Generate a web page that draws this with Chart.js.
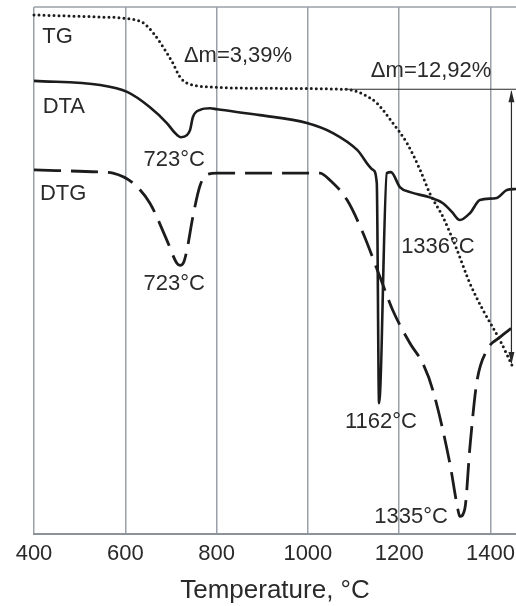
<!DOCTYPE html>
<html>
<head>
<meta charset="utf-8">
<script src="https://cdn.jsdelivr.net/npm/chart.js@4"></script>
<style>
  body { margin: 0; background: #fff; }
  #wrap { width: 516px; height: 606px; }
</style>
</head>
<body>
<div id="wrap"><canvas id="myChart" width="516" height="606"></canvas></div>
<script>
//data (signal in arbitrary units, 0..100)
let tgTemp = [400, 545, 595, 639, 661, 691, 704, 720, 735, 748, 792, 880, 1081, 1099, 1125, 1151, 1186, 1217, 1246, 1267, 1296, 1327, 1355, 1384, 1421, 1447]
let tgVal = [98.5, 98.1, 97.9, 97.0, 95.1, 91.3, 89.4, 86.7, 85.6, 85.2, 84.8, 84.6, 84.4, 84.2, 83.3, 81.8, 78.0, 74.2, 69.1, 64.7, 60.2, 53.9, 47.6, 42.5, 36.8, 32.1]

let dtaTemp = [400, 545, 604, 654, 691, 709, 722, 735, 742, 748, 764, 786, 801, 895, 998, 1055, 1108, 1143, 1151, 1156, 1173, 1182, 1202, 1224, 1267, 1296, 1316, 1333, 1355, 1377, 1414, 1436, 1456]
let dtaVal = [86.0, 85.2, 83.9, 81.0, 78.0, 76.1, 75.3, 75.7, 76.7, 79.1, 80.5, 80.8, 80.6, 79.5, 78.0, 76.1, 72.9, 69.1, 66.6, 24.9, 68.5, 68.7, 65.8, 64.9, 63.9, 62.8, 61.1, 59.6, 60.9, 63.4, 63.8, 65.3, 65.5]

let dtgTemp = [400, 545, 573, 617, 654, 691, 713, 720, 728, 735, 748, 764, 781, 801, 1026, 1048, 1086, 1121, 1158, 1186, 1224, 1252, 1274, 1311, 1327, 1333, 1344, 1355, 1370, 1392, 1421, 1449]
let dtgVal = [69.1, 68.7, 68.5, 66.6, 62.8, 55.8, 51.4, 51.0, 51.6, 53.9, 60.2, 66.2, 68.3, 68.5, 68.5, 67.2, 63.4, 57.1, 48.8, 42.5, 36.2, 32.4, 27.3, 13.5, 5.5, 3.4, 4.9, 16.5, 28.8, 34.9, 37.4, 39.3]

let xTicks = [400, 600, 800, 1000, 1200, 1400]

//text on the plot: [text, temperature, signal, align]
let notes = [
	['TG', 418, 94.4, 'left'],
	['DTA', 419, 81.0, 'left'],
	['DTG', 413, 64.6, 'left'],
	['Δm=3,39%', 847, 90.7, 'center'],
	['Δm=12,92%', 1270, 87.9, 'center'],
	['723°C', 707, 71.0, 'center'],
	['723°C', 707, 47.4, 'center'],
	['1336°C', 1285, 54.6, 'center'],
	['1162°C', 1160, 21.4, 'center'],
	['1335°C', 1226, 3.3, 'center']
]
//mass loss bracket: from 1080 to the arrow at 1446, signal 84.4 -> 32.1
let bracket = { from: 1080, at: 1446, top: 84.4, bottom: 32.1 }

let ink = '#1c1c1c'
let font = 'Liberation Sans, Arial, sans-serif'

function pts(xs, ys) {
	return xs.map((x, i) => ({ x: x, y: ys[i] }))
}

let frame = {
	id: 'frame',
	beforeDatasetsDraw(chart) {
		let { ctx, chartArea: a } = chart
		ctx.save()
		ctx.strokeStyle = '#9aa0a8'
		ctx.lineWidth = 1.5
		ctx.beginPath()
		ctx.moveTo(a.left, a.top)
		ctx.lineTo(a.right, a.top)
		ctx.stroke()
		ctx.restore()
	},
	afterDatasetsDraw(chart) {
		let { ctx, scales } = chart
		let sx = scales.x, sy = scales.y
		ctx.save()
		ctx.fillStyle = '#2a2a2a'
		ctx.font = '22px ' + font
		ctx.textBaseline = 'middle'
		notes.forEach((n) => {
			ctx.textAlign = n[3]
			ctx.fillText(n[0], sx.getPixelForValue(n[1]), sy.getPixelForValue(n[2]))
		})
		//bracket line and double arrow
		let x0 = sx.getPixelForValue(bracket.from)
		let x1 = sx.getPixelForValue(bracket.at)
		let y0 = sy.getPixelForValue(bracket.top)
		let y1 = sy.getPixelForValue(bracket.bottom)
		ctx.strokeStyle = '#2a2a2a'
		ctx.lineWidth = 1.2
		ctx.beginPath()
		ctx.moveTo(x0, y0)
		ctx.lineTo(chart.width, y0)
		ctx.moveTo(x1, y0 + 2)
		ctx.lineTo(x1, y1 - 2)
		ctx.stroke()
		ctx.fillStyle = '#2a2a2a'
		ctx.beginPath()
		ctx.moveTo(x1, y0 + 1)
		ctx.lineTo(x1 - 3, y0 + 13)
		ctx.lineTo(x1 + 3, y0 + 13)
		ctx.fill()
		ctx.beginPath()
		ctx.moveTo(x1, y1 - 1)
		ctx.lineTo(x1 - 3, y1 - 13)
		ctx.lineTo(x1 + 3, y1 - 13)
		ctx.fill()
		ctx.restore()
	}
}

let config = {
	type: 'line',
	data: {
		datasets: [
			{
				label: 'TG',
				data: pts(tgTemp, tgVal),
				borderColor: ink,
				borderWidth: 3,
				borderDash: [0, 5],
				borderCapStyle: 'round'
			},
			{
				label: 'DTA',
				data: pts(dtaTemp, dtaVal),
				borderColor: ink,
				borderWidth: 2.6
			},
			{
				label: 'DTG',
				data: pts(dtgTemp, dtgVal),
				borderColor: ink,
				borderWidth: 2.8,
				borderDash: [27, 10]
			}
		]
	},
	options: {
		responsive: false,
		animation: false,
		cubicInterpolationMode: 'monotone',
		pointRadius: 0,
		clip: false,
		layout: { padding: { left: 34, right: 0, top: 7, bottom: 0 } },
		plugins: { legend: { display: false }, tooltip: { enabled: false } },
		scales: {
			x: {
				type: 'linear',
				min: 400,
				max: 1456,
				afterBuildTicks: (axis) => {
					axis.ticks = xTicks.map((v) => ({ value: v }))
				},
				afterFit: (axis) => {
					axis.paddingRight = 0 //plot runs to the right edge
				},
				grid: { color: '#9aa0a8', lineWidth: 1.5, drawTicks: false },
				border: { color: '#8c9299', width: 2 },
				ticks: {
					color: '#2a2a2a',
					font: { family: font, size: 22 },
					padding: 6,
					maxRotation: 0,
					callback: (value) => String(value)
				},
				title: {
					display: true,
					text: 'Temperature, °C',
					color: '#2a2a2a',
					font: { family: font, size: 26 },
					padding: { top: 2, bottom: 0 }
				}
			},
			y: {
				display: false,
				min: 0,
				max: 100
			}
		}
	},
	plugins: [frame]
}

let chart = new Chart(document.getElementById('myChart').getContext('2d'), config)
</script>
</body>
</html>
